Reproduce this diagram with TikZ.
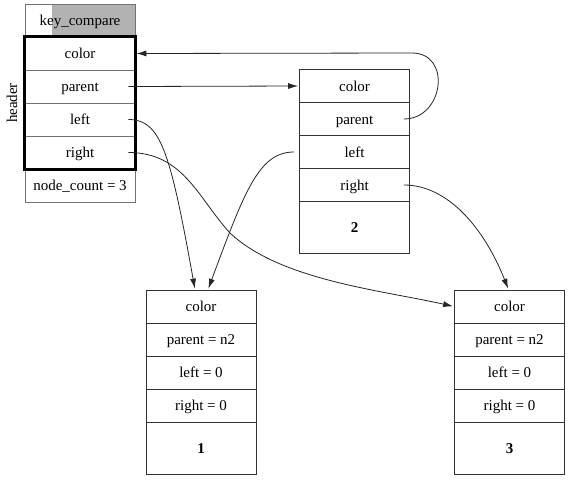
\documentclass[tikz,border=0pt]{standalone}
\usepackage{fontspec}
\setmainfont{Liberation Serif}
\usetikzlibrary{arrows.meta}
\begin{document}
\begin{tikzpicture}[x=1pt,y=-1pt,shorten >=1pt,draw=black!100,
	>={Latex[length=10pt,width=6pt]}]

	\def \rowh{33pt}
	\def \colA{80}
	\def \colB{354.5}
	\def \colC{201}
	\def \colD{509.5}
	\tikzstyle{f-row}=[draw=black!80,line width=0.8pt,minimum width=110pt,minimum height=\rowh,inner sep=0pt,text height=12pt,text depth=2pt,text centered,font=\fontsize{15}{18}\selectfont]
	\tikzstyle{f-big}=[f-row,minimum height=52pt,font=\fontsize{15}{18}\selectfont\bfseries]
	\tikzstyle{h-row}=[f-row,draw=black!55]
	\tikzstyle{link}=[->,line width=0.8pt,black!85]
	\useasboundingbox (0,0) rectangle (568,480);

	% header
	\fill[black!30] (52,4) rectangle (135,37);
	\node[h-row] (hkey)	at (\colA,20.5)		{key\_compare};
	\node[h-row] (hcolor)	at (\colA,53.5)		{color};
	\node[h-row] (hparent)	at (\colA,86.5)		{parent};
	\node[h-row] (hleft)	at (\colA,119.5)	{left};
	\node[h-row] (hright)	at (\colA,152.5)	{right};
	\node[h-row] (hcount)	at (\colA,185.5)	{node\_count = 3};
	\draw[line width=2.6pt] (hcolor.north west) rectangle (hright.south east);
	\node[rotate=90,font=\fontsize{15}{18}\selectfont] (hlabel) at (12,103) {header};

	% node 2
	\node[f-row] (bcolor)	at (\colB,86)		{color};
	\node[f-row] (bparent)	at (\colB,119)		{parent};
	\node[f-row] (bleft)	at (\colB,152)		{left};
	\node[f-row] (bright)	at (\colB,185)		{right};
	\node[f-big] (bnum)	at (\colB,227.5)	{2};

	% node 1
	\node[f-row] (acolor)	at (\colC,306.5)	{color};
	\node[f-row] (aparent)	at (\colC,339.5)	{parent = n2};
	\node[f-row] (aleft)	at (\colC,372.5)	{left = 0};
	\node[f-row] (aright)	at (\colC,405.5)	{right = 0};
	\node[f-big] (anum)	at (\colC,448.5)	{1};

	% node 3
	\node[f-row] (ccolor)	at (\colD,306.5)	{color};
	\node[f-row] (cparent)	at (\colD,339.5)	{parent = n2};
	\node[f-row] (cleft)	at (\colD,372.5)	{left = 0};
	\node[f-row] (cright)	at (\colD,405.5)	{right = 0};
	\node[f-big] (cnum)	at (\colD,448.5)	{3};

	% links
	\draw[link] ([xshift=-7pt]hparent.east) -- (bcolor.west);
	\draw[link] ([xshift=-6pt]bparent.east) .. controls +(40,0) and (452,53) .. (412,53) -- (hcolor.east);
	\draw[link] ([xshift=-7pt]hleft.east) .. controls +(32,0) and (170,150) .. ([xshift=-6pt]acolor.north);
	\draw[link] ([xshift=-7pt]hright.east) .. controls +(55,0) and (198,198) .. (230,233)
		.. controls (280,280) and (380,290) .. (ccolor.west);
	\draw[link] ([xshift=-5pt]bleft.west) .. controls +(-35,0) and (245,190) .. ([xshift=7pt]acolor.north);
	\draw[link] ([xshift=-6pt]bright.east) .. controls +(45,0) and (485,230) .. ([xshift=-1pt]ccolor.north);
\end{tikzpicture}
\end{document}
